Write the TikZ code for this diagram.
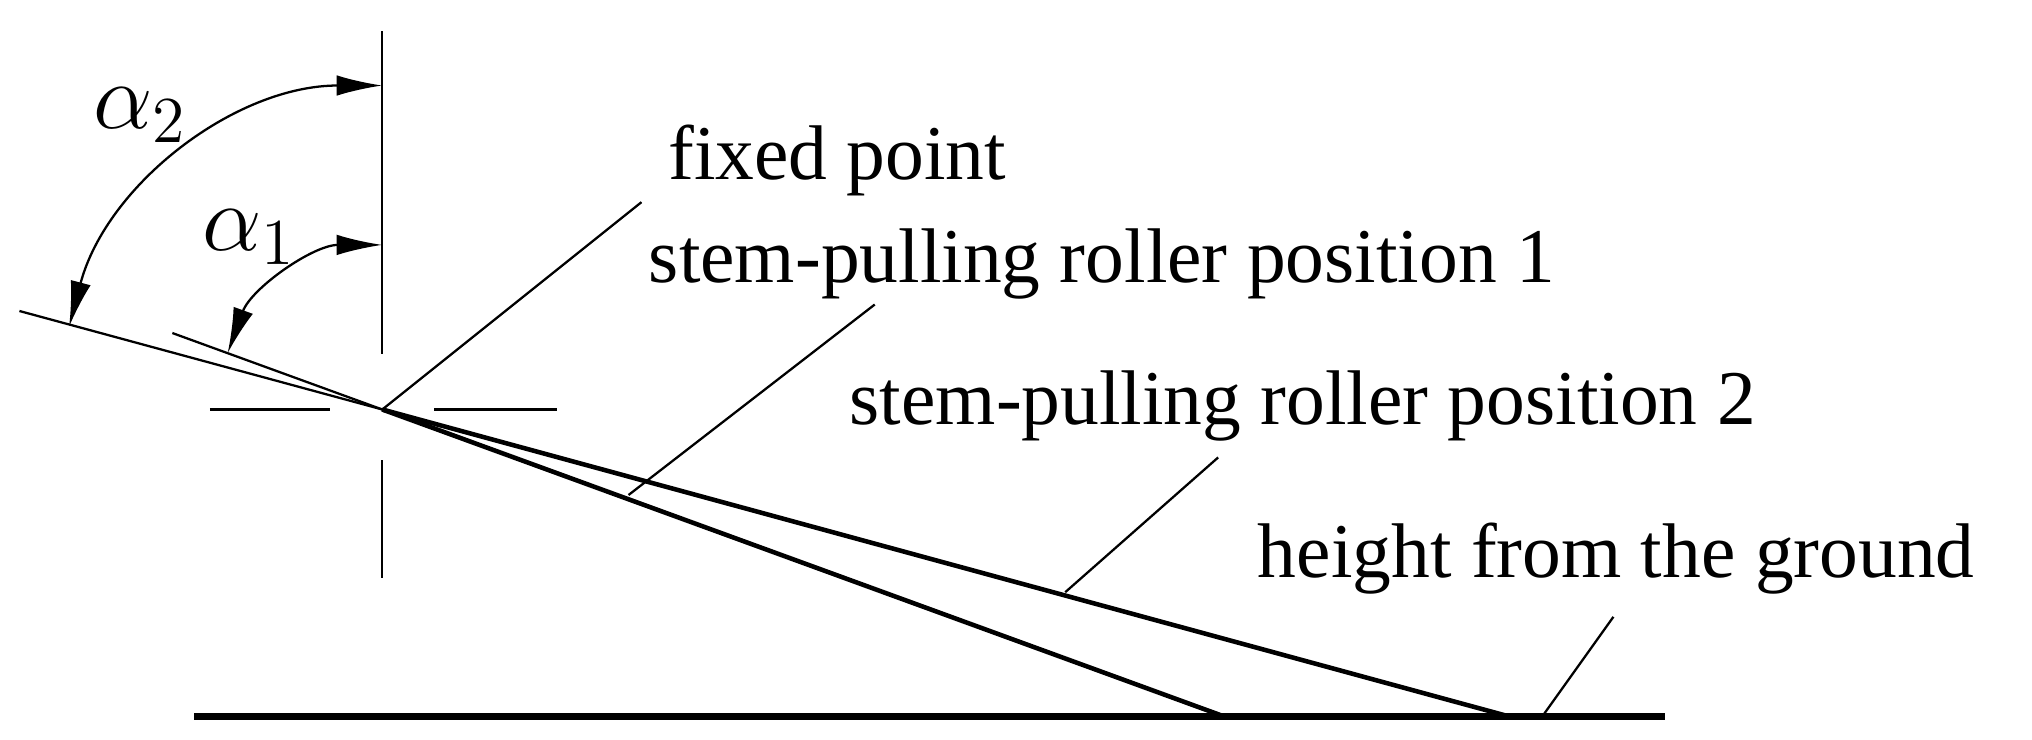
\documentclass[tikz,border=0pt]{standalone}
\usepackage{fontspec}
\setmainfont{Liberation Serif}
\usetikzlibrary{arrows.meta}
\begin{document}
\begin{tikzpicture}[x=0.01cm, y=-0.01cm,
    thin line/.style={line width=0.5pt},
    rod/.style={line width=1pt},
    lbl/.style={inner sep=0pt, anchor=west, font=\fontsize{17}{20}\selectfont},
    angarrow/.style={line width=0.5pt, {Latex[length=10pt,width=4.5pt]}-{Latex[length=10pt,width=4.5pt]}}]
  \useasboundingbox (0,0) rectangle (1568,571);

  % fixed point and centre cross
  \coordinate (O) at (295,316);
  \draw[thin line] (295,24) -- (295,273);
  \draw[thin line] (295,355) -- (295,446);
  \draw[thin line] (162,316) -- (255,316);
  \draw[thin line] (335,316) -- (430,316);

  % ground and roller positions
  \coordinate (g1) at (945,553);
  \coordinate (g2) at (1165,553);
  \draw[line width=1.6pt] (150,553) -- (1285,553);
  \draw[rod] (O) -- (g1);
  \draw[rod] (O) -- (g2);
  \draw[thin line] (O) -- (133,257);
  \draw[thin line] (O) -- (15,240);

  % angles (y axis points down, so angles are negated)
  \draw[angarrow] ([shift={(-160:127)}]O) arc[start angle=-160, end angle=-90, radius=127];
  \draw[angarrow] ([shift={(-165.2:250)}]O) arc[start angle=-165.2, end angle=-90, radius=250];
  \node[font=\fontsize{20}{22}\selectfont] (a2) at (108,89) {$\alpha_2$};
  \node[font=\fontsize{20}{22}\selectfont] (a1) at (192,183) {$\alpha_1$};

  % labels with leaders
  \node[lbl] (fp) at (515,124) {fixed point};
  \node[lbl] (p1) at (500,204) {stem-pulling roller position 1};
  \node[lbl] (p2) at (655,313) {stem-pulling roller position 2};
  \node[lbl] (hg) at (970,431) {height from the ground};
  \coordinate (e1) at (485,382);
  \coordinate (e2) at (822,457);
  \coordinate (e3) at (1190,553);
  \draw[thin line] (O) -- (495,156);
  \draw[thin line] (e1) -- (675,235);
  \draw[thin line] (e2) -- (940,353);
  \draw[thin line] (e3) -- (1245,476);
\end{tikzpicture}
\end{document}
